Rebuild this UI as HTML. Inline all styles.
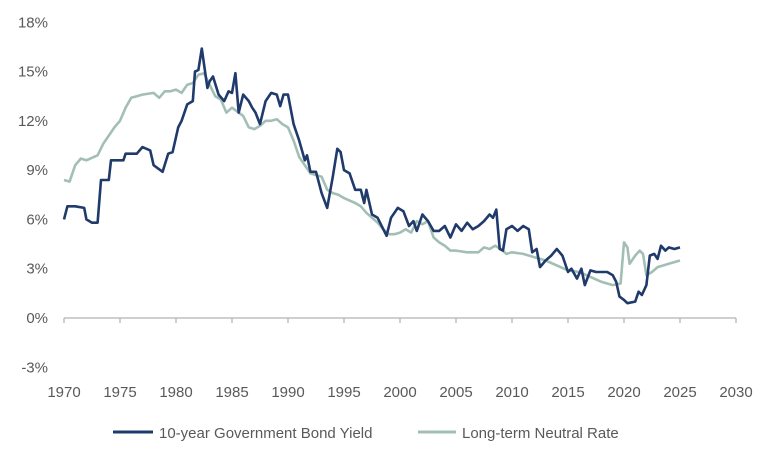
<!DOCTYPE html>
<html><head><meta charset="utf-8">
<style>
html,body{margin:0;padding:0;background:#fff;}
svg{display:block;font-family:"Liberation Sans",Arial,sans-serif;}
</style></head>
<body>
<svg id="chart" width="758" height="463" viewBox="0 0 758 463">
<g id="grid"></g>
<g id="series"></g>
<g>
  <line x1="113" y1="432" x2="153" y2="432" stroke="#1f3a6b" stroke-width="3"/>
  <text x="159" y="438" font-size="15" fill="#595959">10-year Government Bond Yield</text>
  <line x1="418" y1="432" x2="456" y2="432" stroke="#a3bfb5" stroke-width="3"/>
  <text x="462" y="438" font-size="15" fill="#595959">Long-term Neutral Rate</text>
</g>
</svg>
<script>
const yTicks=[-3,0,3,6,9,12,15,18];
const xTicks=[1970,1975,1980,1985,1990,1995,2000,2005,2010,2015,2020,2025,2030];
const bondYears=[1970,1970.3,1971,1971.8,1972,1972.5,1973,1973.3,1974,1974.2,1975.3,1975.5,1976.5,1977,1977.7,1978,1978.8,1979.3,1979.7,1980.2,1980.5,1981,1981.5,1981.7,1982,1982.3,1982.8,1983,1983.3,1983.8,1984.3,1984.7,1985,1985.3,1985.6,1986,1986.5,1986.8,1987.1,1987.5,1988,1988.5,1989,1989.3,1989.6,1990,1990.5,1991,1991.5,1991.7,1992,1992.5,1993,1993.5,1994,1994.4,1994.7,1995,1995.5,1996,1996.5,1996.8,1997,1997.5,1998,1998.8,1999.2,1999.8,2000.3,2000.8,2001.2,2001.5,2002,2002.5,2003,2003.5,2004,2004.5,2005,2005.5,2006,2006.5,2007,2007.5,2008,2008.3,2008.6,2008.9,2009.2,2009.5,2010,2010.5,2011,2011.5,2011.8,2012.2,2012.5,2013,2013.5,2014,2014.5,2015,2015.3,2015.8,2016.2,2016.5,2017,2017.5,2018,2018.5,2019,2019.3,2019.6,2020,2020.3,2021,2021.3,2021.6,2022,2022.3,2022.7,2023,2023.3,2023.7,2024,2024.5,2025];
const bondValues=[6.0,6.8,6.8,6.7,6.0,5.8,5.8,8.4,8.4,9.6,9.6,10.0,10.0,10.4,10.2,9.3,8.9,10.0,10.1,11.6,12.0,13.0,13.2,15.0,15.1,16.4,14.0,14.4,14.7,13.6,13.2,13.8,13.7,14.9,12.5,13.6,13.2,12.8,12.5,11.8,13.2,13.7,13.6,12.9,13.6,13.6,11.8,10.8,9.6,9.9,8.9,8.9,7.6,6.7,8.6,10.3,10.1,9.0,8.8,7.8,7.8,7.0,7.8,6.3,6.1,5.0,6.1,6.7,6.5,5.6,5.9,5.3,6.3,5.9,5.3,5.3,5.6,4.9,5.7,5.3,5.8,5.4,5.6,5.9,6.3,6.1,6.6,4.2,4.1,5.4,5.6,5.3,5.6,5.4,4.0,4.2,3.1,3.5,3.8,4.2,3.8,2.8,3.0,2.4,3.0,2.0,2.9,2.8,2.8,2.8,2.6,2.2,1.3,1.1,0.9,1.0,1.6,1.4,2.0,3.8,3.9,3.6,4.4,4.1,4.3,4.2,4.3];
const neutralYears=[1970,1970.5,1971,1971.5,1972,1973,1973.5,1974,1974.5,1975,1975.5,1976,1976.5,1977,1978,1978.5,1979,1979.5,1980,1980.5,1981,1981.5,1982,1982.5,1983,1983.5,1984,1984.5,1985,1986,1986.5,1987,1987.5,1988,1988.5,1989,1989.5,1990,1990.5,1991,1991.5,1992,1992.5,1993,1993.5,1994,1994.5,1995,1996,1996.5,1997,1997.5,1998,1998.5,1999,1999.5,2000,2000.5,2001,2001.5,2002,2002.5,2003,2003.5,2004,2004.5,2005,2006,2007,2007.5,2008,2008.5,2009,2009.5,2010,2011,2012,2013,2014,2015,2016,2017,2018,2019,2019.7,2020,2020.3,2020.5,2021,2021.4,2021.7,2022,2022.5,2023,2024,2024.5,2025];
const neutralValues=[8.4,8.3,9.3,9.7,9.6,9.9,10.6,11.1,11.6,12.0,12.8,13.4,13.5,13.6,13.7,13.4,13.8,13.8,13.9,13.7,14.2,14.3,14.8,14.9,14.2,13.5,13.3,12.5,12.8,12.3,11.6,11.5,11.7,12.0,12.0,12.1,11.8,11.6,10.8,9.8,9.3,8.8,8.7,8.6,7.8,7.6,7.5,7.3,7.0,6.8,6.4,6.1,5.8,5.4,5.1,5.1,5.2,5.4,5.2,5.9,5.7,5.9,4.9,4.6,4.4,4.1,4.1,4.0,4.0,4.3,4.2,4.4,4.2,3.9,4.0,3.9,3.7,3.5,3.2,2.9,2.8,2.5,2.2,2.0,2.1,4.6,4.3,3.3,3.8,4.1,3.9,2.6,2.8,3.1,3.3,3.4,3.5];

const X0=64, YR=11.2, Y0=318, PP=16.43;
const xs=y=>X0+(y-1970)*YR;
const ys=v=>Y0-v*PP;
const NS="http://www.w3.org/2000/svg";
const grid=document.getElementById('grid'), series=document.getElementById('series');

yTicks.forEach(t=>{
  const tx=document.createElementNS(NS,'text');
  tx.setAttribute('x',48);tx.setAttribute('y',ys(t)+5);
  tx.setAttribute('text-anchor','end');tx.setAttribute('font-size','15');tx.setAttribute('fill','#595959');
  tx.textContent=t+'%';
  
  
  grid.appendChild(tx);
});
const ax=document.createElementNS(NS,'line');
ax.setAttribute('x1',xs(1970));ax.setAttribute('x2',xs(2030));ax.setAttribute('y1',Y0);ax.setAttribute('y2',Y0);
ax.setAttribute('stroke','#bfbfbf');ax.setAttribute('stroke-width','1.5');


grid.appendChild(ax);
xTicks.forEach(t=>{
  const tk=document.createElementNS(NS,'line');
  tk.setAttribute('x1',xs(t));tk.setAttribute('x2',xs(t));tk.setAttribute('y1',Y0);tk.setAttribute('y2',Y0+5);
  tk.setAttribute('stroke','#bfbfbf');tk.setAttribute('stroke-width','1.5');
  
  
  grid.appendChild(tk);
  const tx=document.createElementNS(NS,'text');
  tx.setAttribute('x',xs(t));tx.setAttribute('y',397);
  tx.setAttribute('text-anchor','middle');tx.setAttribute('font-size','15');tx.setAttribute('fill','#595959');
  tx.textContent=t;
  
  
  grid.appendChild(tx);
});
function line(yrs,vals,color,name){
  const p=document.createElementNS(NS,'path');
  p.setAttribute('d',yrs.map((y,i)=>(i?'L':'M')+xs(y).toFixed(1)+','+ys(vals[i]).toFixed(1)).join(''));
  p.setAttribute('fill','none');p.setAttribute('stroke',color);p.setAttribute('stroke-width','2.6');
  p.setAttribute('stroke-linejoin','round');
  
  
  series.appendChild(p);
}
line(neutralYears,neutralValues,'#a3bfb5','neutral-rate-line');
line(bondYears,bondValues,'#1f3a6b','bond-yield-line');
</script>
</body></html>
